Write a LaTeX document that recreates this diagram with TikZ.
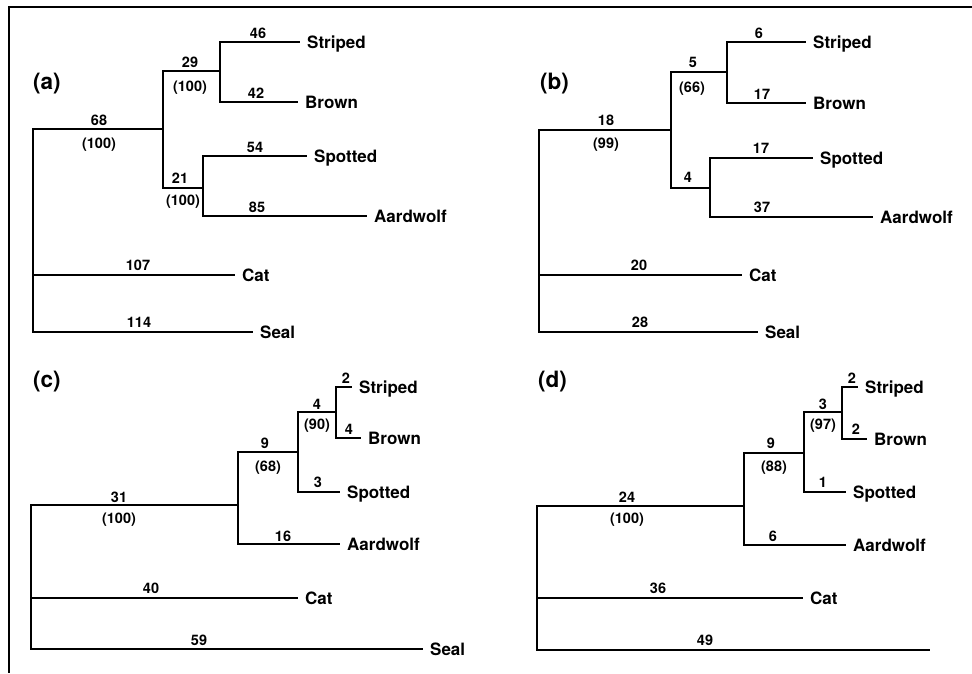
\documentclass[tikz,border=0pt]{standalone}
\usepackage{fontspec}
\setsansfont{TeX Gyre Heros}
\usetikzlibrary{positioning}
\tikzset{
  branch/.style={line width=2.4pt},
  frame/.style={line width=1.8pt},
  leaf/.style={anchor=west, inner xsep=7pt, inner ysep=0pt, text height=12pt, text depth=0pt, font=\sffamily\bfseries\fontsize{17}{19}\selectfont},
  len/.style={inner sep=0pt, text height=10.3pt, text depth=0pt, font=\sffamily\bfseries\fontsize{14.5}{16}\selectfont},
  boot/.style={len},
  panel/.style={anchor=west, inner sep=0pt, font=\sffamily\bfseries\fontsize{22.5}{24}\selectfont}
}

\begin{document}
\begin{tikzpicture}[x=1pt, y=-1pt]
  \useasboundingbox (0,0) rectangle (972,673);
  \draw[frame] (972,7) -- (9,7) -- (9,673);

  % (a)
  \node[panel] (a-tag) at (33,84) {(a)};
  \coordinate (a-root) at (33,230);
  \coordinate (a-hy) at (163,129);
  \coordinate (a-sb) at (220,71);
  \coordinate (a-sa) at (203,188);
  \node[leaf] (a-str) at (300,42) {Striped};
  \node[leaf] (a-bro) at (298,102) {Brown};
  \node[leaf] (a-spo) at (307,156) {Spotted};
  \node[leaf] (a-aar) at (367,216) {Aardwolf};
  \node[leaf] (a-cat) at (235,275) {Cat};
  \node[leaf] (a-sea) at (253,332) {Seal};
  \draw[branch] (a-root) |- (a-hy);
  \draw[branch] (a-root) |- (a-cat.west);
  \draw[branch] (a-root) |- (a-sea.west);
  \draw[branch] (a-hy) |- (a-sb);
  \draw[branch] (a-hy) |- (a-sa);
  \draw[branch] (a-sb) |- (a-str.west);
  \draw[branch] (a-sb) |- (a-bro.west);
  \draw[branch] (a-sa) |- (a-spo.west);
  \draw[branch] (a-sa) |- (a-aar.west);
  \node[len] (a-len-hy) at (99,120) {68};
  \node[boot] (a-bs-hy) at (99,143) {(100)};
  \node[len] (a-len-sb) at (190,62) {29};
  \node[boot] (a-bs-sb) at (190,86) {(100)};
  \node[len] (a-len-sa) at (180,178) {21};
  \node[boot] (a-bs-sa) at (183,200) {(100)};
  \node[len] (a-len-str) at (258,33) {46};
  \node[len] (a-len-bro) at (256,93) {42};
  \node[len] (a-len-spo) at (255,147) {54};
  \node[len] (a-len-aar) at (257,207) {85};
  \node[len] (a-len-cat) at (138,265) {107};
  \node[len] (a-len-sea) at (139,322) {114};

  % (b)
  \node[panel] (b-tag) at (540,84) {(b)};
  \coordinate (b-root) at (539,230);
  \coordinate (b-hy) at (671,130);
  \coordinate (b-sb) at (727,72);
  \coordinate (b-sa) at (710,188);
  \node[leaf] (b-str) at (806,42) {Striped};
  \node[leaf] (b-bro) at (806,103) {Brown};
  \node[leaf] (b-spo) at (813,158) {Spotted};
  \node[leaf] (b-aar) at (873,217) {Aardwolf};
  \node[leaf] (b-cat) at (742,275) {Cat};
  \node[leaf] (b-sea) at (758,332) {Seal};
  \draw[branch] (b-root) |- (b-hy);
  \draw[branch] (b-root) |- (b-cat.west);
  \draw[branch] (b-root) |- (b-sea.west);
  \draw[branch] (b-hy) |- (b-sb);
  \draw[branch] (b-hy) |- (b-sa);
  \draw[branch] (b-sb) |- (b-str.west);
  \draw[branch] (b-sb) |- (b-bro.west);
  \draw[branch] (b-sa) |- (b-spo.west);
  \draw[branch] (b-sa) |- (b-aar.west);
  \node[len] (b-len-hy) at (606,120) {18};
  \node[boot] (b-bs-hy) at (606,143) {(99)};
  \node[len] (b-len-sb) at (693,62) {5};
  \node[boot] (b-bs-sb) at (692,87) {(66)};
  \node[len] (b-len-sa) at (688,177) {4};
  \node[len] (b-len-str) at (759,33) {6};
  \node[len] (b-len-bro) at (762,94) {17};
  \node[len] (b-len-spo) at (761,148) {17};
  \node[len] (b-len-aar) at (762,207) {37};
  \node[len] (b-len-cat) at (639,265) {20};
  \node[len] (b-len-sea) at (640,322) {28};

  % (c)
  \node[panel] (c-tag) at (33,382) {(c)};
  \coordinate (c-root) at (31,580);
  \coordinate (c-hy) at (238,505);
  \coordinate (c-sb) at (298,452);
  \coordinate (c-sc) at (336,412);
  \node[leaf] (c-str) at (352,387) {Striped};
  \node[leaf] (c-bro) at (361,438) {Brown};
  \node[leaf] (c-spo) at (340,492) {Spotted};
  \node[leaf] (c-aar) at (340,544) {Aardwolf};
  \node[leaf] (c-cat) at (298,598) {Cat};
  \node[leaf] (c-sea) at (423,649) {Seal};
  \draw[branch] (c-root) |- (c-hy);
  \draw[branch] (c-root) |- (c-cat.west);
  \draw[branch] (c-root) |- (c-sea.west);
  \draw[branch] (c-hy) |- (c-sb);
  \draw[branch] (c-hy) |- (c-aar.west);
  \draw[branch] (c-sb) |- (c-sc);
  \draw[branch] (c-sb) |- (c-spo.west);
  \draw[branch] (c-sc) |- (c-str.west);
  \draw[branch] (c-sc) |- (c-bro.west);
  \node[len] (c-len-hy) at (119,497) {31};
  \node[boot] (c-bs-hy) at (119,518) {(100)};
  \node[len] (c-len-sb) at (265,443) {9};
  \node[boot] (c-bs-sb) at (268,466) {(68)};
  \node[len] (c-len-sc) at (317,404) {4};
  \node[boot] (c-bs-sc) at (317,424) {(90)};
  \node[len] (c-len-str) at (346,378) {2};
  \node[len] (c-len-bro) at (349,429) {4};
  \node[len] (c-len-spo) at (318,482) {3};
  \node[len] (c-len-aar) at (283,536) {16};
  \node[len] (c-len-cat) at (151,588) {40};
  \node[len] (c-len-sea) at (199,640) {59};

  % (d)
  \node[panel] (d-tag) at (538,382) {(d)};
  \coordinate (d-root) at (537,580);
  \coordinate (d-hy) at (744,506);
  \coordinate (d-sb) at (804,453);
  \coordinate (d-sc) at (842,412);
  \node[leaf] (d-str) at (858,387) {Striped};
  \node[leaf] (d-bro) at (867,439) {Brown};
  \node[leaf] (d-spo) at (846,492) {Spotted};
  \node[leaf] (d-aar) at (846,545) {Aardwolf};
  \node[leaf] (d-cat) at (803,598) {Cat};
  \coordinate (d-sea) at (930,650);
  \draw[branch] (d-root) |- (d-hy);
  \draw[branch] (d-root) |- (d-cat.west);
  \draw[branch] (d-root) |- (d-sea);
  \draw[branch] (d-hy) |- (d-sb);
  \draw[branch] (d-hy) |- (d-aar.west);
  \draw[branch] (d-sb) |- (d-sc);
  \draw[branch] (d-sb) |- (d-spo.west);
  \draw[branch] (d-sc) |- (d-str.west);
  \draw[branch] (d-sc) |- (d-bro.west);
  \node[len] (d-len-hy) at (627,497) {24};
  \node[boot] (d-bs-hy) at (627,518) {(100)};
  \node[len] (d-len-sb) at (771,443) {9};
  \node[boot] (d-bs-sb) at (774,466) {(88)};
  \node[len] (d-len-sc) at (823,404) {3};
  \node[boot] (d-bs-sc) at (823,424) {(97)};
  \node[len] (d-len-str) at (852,378) {2};
  \node[len] (d-len-bro) at (856,429) {2};
  \node[len] (d-len-spo) at (823,482) {1};
  \node[len] (d-len-aar) at (773,536) {6};
  \node[len] (d-len-cat) at (658,588) {36};
  \node[len] (d-len-sea) at (705,640) {49};
\end{tikzpicture}
\end{document}
